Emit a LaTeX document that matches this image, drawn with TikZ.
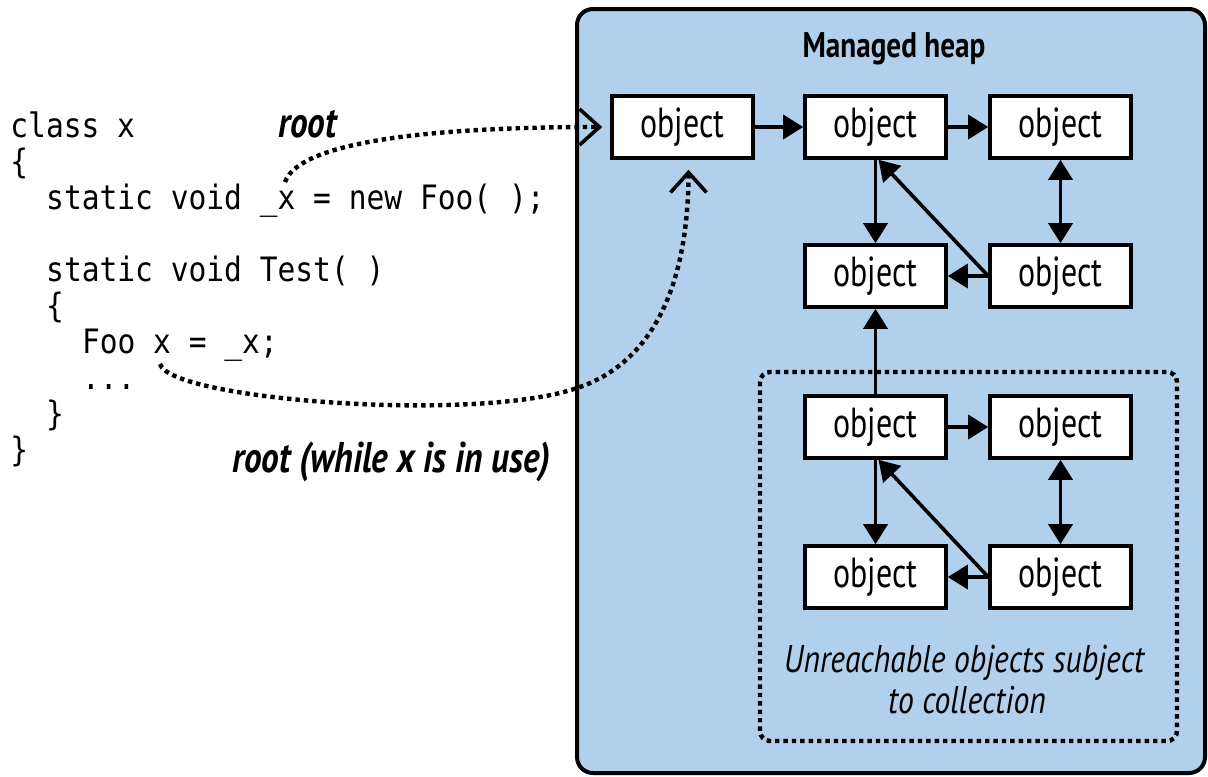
\documentclass[tikz,border=0pt]{standalone}
\usepackage{fontspec}
\usetikzlibrary{arrows.meta}
\newfontfamily\codefont[FakeStretch=0.88]{DejaVu Sans Mono}
\newfontfamily\lblfont[FakeStretch=0.82]{PT Sans}
\newfontfamily\objfont[FakeStretch=0.76]{PT Sans}
\definecolor{heapblue}{RGB}{176,208,236}
\begin{document}
\begin{tikzpicture}[x=0.5pt,y=-0.5pt,
  code/.style={anchor=base west, inner sep=0pt, font=\codefont\fontsize{16.8}{18}\selectfont},
  obj/.style={draw, line width=1.8pt, fill=white, minimum width=70.5pt, minimum height=31pt, inner sep=0pt, font=\objfont\fontsize{21}{22}\selectfont},
  link/.style={line width=1.8pt, -{Triangle[length=10pt,width=12pt]}},
  linkboth/.style={line width=1.8pt, {Triangle[length=10pt,width=12pt]}-{Triangle[length=10pt,width=12pt]}},
  dots/.style={line width=2.2pt, dash pattern=on 2.2pt off 2pt},
  chev/.style={-{Straight Barb[length=10pt,width=18pt]}},
  rootlbl/.style={anchor=base west, inner sep=0pt, font=\lblfont\bfseries\itshape\fontsize{21.5}{23}\selectfont}
]
\useasboundingbox (0,0) rectangle (1208,776);
\begin{scope}
\clip (0,0) rectangle (1208,776);
\draw[line width=2pt, fill=heapblue, rounded corners=8pt] (577,9) rectangle (1205,773);
\end{scope}

% code listing
\node[code] (c1) at (10,137) {class x};
\node[code] (c2) at (10,173) {\{};
\node[code] (c3) at (45.8,209) {static void \_x = new Foo( );};
\node[code] (c4) at (45.8,281) {static void Test( )};
\node[code] (c5) at (45.8,317) {\{};
\node[code] (c6) at (81.6,353) {Foo x = \_x;};
\node[code] (c7) at (81.6,389) {...};
\node[code] (c8) at (45.8,425) {\}};
\node[code] (c9) at (10,461) {\}};

\node[rootlbl] (r1) at (278,137) {root};
\node[rootlbl] (r2) at (232,472) {root (while x is in use)};

% heap title
\node[anchor=base, inner sep=0pt, font=\lblfont\bfseries\fontsize{17.8}{19}\selectfont] (title) at (894,57) {Managed heap};

% unreachable region
\draw[dots, rounded corners=5pt] (760,372) rectangle (1177,741);
\node[anchor=base, inner sep=0pt, font=\lblfont\itshape\fontsize{19.3}{21}\selectfont] (note1) at (964,672) {Unreachable objects subject};
\node[anchor=base, inner sep=0pt, font=\lblfont\itshape\fontsize{19.3}{21}\selectfont] (note2) at (967,713) {to collection};

% objects
\node[obj] (o1) at (682.5,127) {object};
\node[obj] (o2) at (875.5,127) {object};
\node[obj] (o3) at (1060.5,127) {object};
\node[obj] (o4) at (875.5,276) {object};
\node[obj] (o5) at (1060.5,276) {object};
\node[obj] (o6) at (875.5,427) {object};
\node[obj] (o7) at (1060.5,427) {object};
\node[obj] (o8) at (875.5,577) {object};
\node[obj] (o9) at (1060.5,577) {object};

\draw[link] (o1) -- (o2);
\draw[link] (o2) -- (o3);
\draw[link] (o2) -- (o4);
\draw[linkboth] (o3) -- (o5);
\draw[link] (o5.west) -- (o4.east);
\draw[link] (o5.west) -- ([xshift=1.5pt]o2.south);
\draw[link] (o6) -- (o4);
\draw[link] (o6) -- (o7);
\draw[link] (o6) -- (o8);
\draw[linkboth] (o7) -- (o9);
\draw[link] (o9.west) -- (o8.east);
\draw[link] (o9.west) -- ([xshift=1.5pt]o6.south);

% root references
\coordinate (s1) at (285,182);
\coordinate (s2) at (160,364);
\draw[dots] (s1) .. controls (300,140) and (440,127) .. ([xshift=-6pt]o1.west);
\draw[line width=1.8pt, chev] ([xshift=-8pt]o1.west) -- ([xshift=-4pt]o1.west);
\draw[dots] (s2) .. controls (170,400) and (477,423) .. (577,388)
  .. controls (620,374) and (688.5,330) .. ([xshift=3pt,yshift=-6pt]o1.south);
\draw[line width=1.8pt, chev] ([xshift=3pt,yshift=-9pt]o1.south) -- ([xshift=3pt,yshift=-5pt]o1.south);
\end{tikzpicture}
\end{document}
